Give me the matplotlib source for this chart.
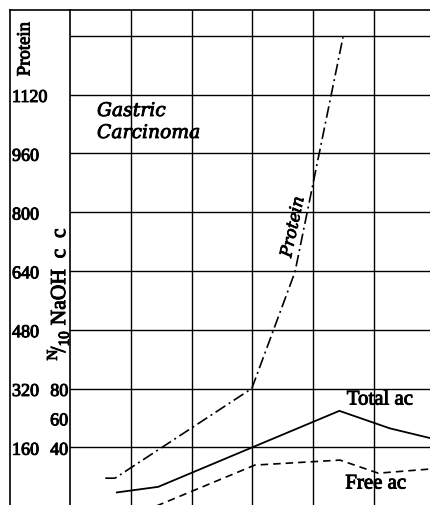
import matplotlib
matplotlib.use('Agg')
import matplotlib.pyplot as plt
import matplotlib.patheffects as pe
from matplotlib.lines import Line2D
from matplotlib.transforms import blended_transform_factory
import numpy as np

plt.rcParams['mathtext.fontset'] = 'custom'
plt.rcParams['mathtext.rm'] = 'Liberation Serif'

# x in grid units (one column = one unit)
protein_x = [0.58, 0.74, 2.99, 3.70, 4.49]
protein = [76, 76, 320, 637, 1276]

total_x = [0.77, 1.45, 3.00, 4.43, 5.26, 5.92]
total_ac = [9.3, 13.1, 40.0, 64.8, 52.9, 46.3]

free_x = [1.30, 3.04, 4.44, 5.07, 5.92]
free_ac = [-2.0, 27.9, 31.3, 22.4, 25.2]

protein_ticks = [160, 320, 480, 640, 800, 960, 1120]
acid_ticks = [40, 60, 80]

W, H = 430, 505
fig = plt.figure(figsize=(W / 100, H / 100), dpi=100)
ax = fig.add_axes([70 / W, 0, 360 / W, 495 / H])
ax.set_xlim(0, 360 / 60.8)
ax.set_ylim(3, 1350)
for s in ['right', 'bottom']:
    ax.spines[s].set_visible(False)
for s in ['left', 'top']:
    ax.spines[s].set_linewidth(1.2)
ax.set_xticks([])
ax.set_yticks([])

# grid
for gx in range(1, 6):
    ax.axvline(gx, color='k', lw=1.0)
for gy in range(160, 1281, 160):
    ax.axhline(gy, color='k', lw=1.0)

ax2 = ax.twinx()
ax2.set_ylim(3 / 4, 1350 / 4)
ax2.axis('off')

ax.plot(protein_x, protein, color='k', lw=1.2,
        linestyle=(0, (7, 2.4, 1.2, 2.4)))
ax2.plot(total_x, total_ac, color='k', lw=1.3, linestyle='-')
ax2.plot(free_x, free_ac, color='k', lw=1.2, linestyle=(0, (4.5, 3)))

# frame of the label column
fig.add_artist(Line2D([10 / W, 10 / W], [0, 495 / H], color='k', lw=1.2))
fig.add_artist(Line2D([10 / W, 70 / W], [495 / H, 495 / H], color='k', lw=1.2))

serif = 'Liberation Serif'
heavy = [pe.withStroke(linewidth=0.7, foreground='k')]
tr = blended_transform_factory(fig.transFigure, ax.transData)
for v in protein_ticks:
    ax.text(12 / W, v - 8, str(v), transform=tr, ha='left', va='center',
            fontsize=13, family=serif, path_effects=heavy)
tr2 = blended_transform_factory(fig.transFigure, ax2.transData)
for v in acid_ticks:
    ax2.text(68 / W, v - 2, str(v), transform=tr2, ha='right', va='center',
             fontsize=13, family=serif, path_effects=heavy)

fig.text(25 / W, 1 - 49 / H, 'Protein', rotation=90, ha='center', va='center',
         fontsize=13.5, family=serif, path_effects=heavy)
fig.text(58 / W, 1 - 294 / H,
         r'$^{\mathrm{N}}\!/_{\mathrm{10}}$' + ' NaOH  c  c',
         rotation=90, ha='center', va='center', fontsize=15.5, family=serif,
         path_effects=heavy)

ital = [pe.withStroke(linewidth=0.6, foreground='k')]
fig.text(97 / W, 1 - 116 / H, 'Gastric', ha='left', va='baseline',
         fontsize=13.5, family='DejaVu Serif', style='italic', path_effects=ital)
fig.text(97 / W, 1 - 138 / H, 'Carcinoma', ha='left', va='baseline',
         fontsize=13.5, family='DejaVu Serif', style='italic', path_effects=ital)
fig.text(293 / W, 1 - 227 / H, 'Protein', rotation=78, ha='center', va='center',
         fontsize=12, family='DejaVu Serif', style='italic', path_effects=ital)

fig.text(380 / W, 1 - 400 / H, 'Total ac', ha='center', va='center',
         fontsize=15, family=serif, path_effects=heavy)
fig.text(376 / W, 1 - 484 / H, 'Free ac', ha='center', va='center',
         fontsize=15, family=serif, path_effects=heavy)

fig.savefig('out.png', dpi=100, facecolor='white')
